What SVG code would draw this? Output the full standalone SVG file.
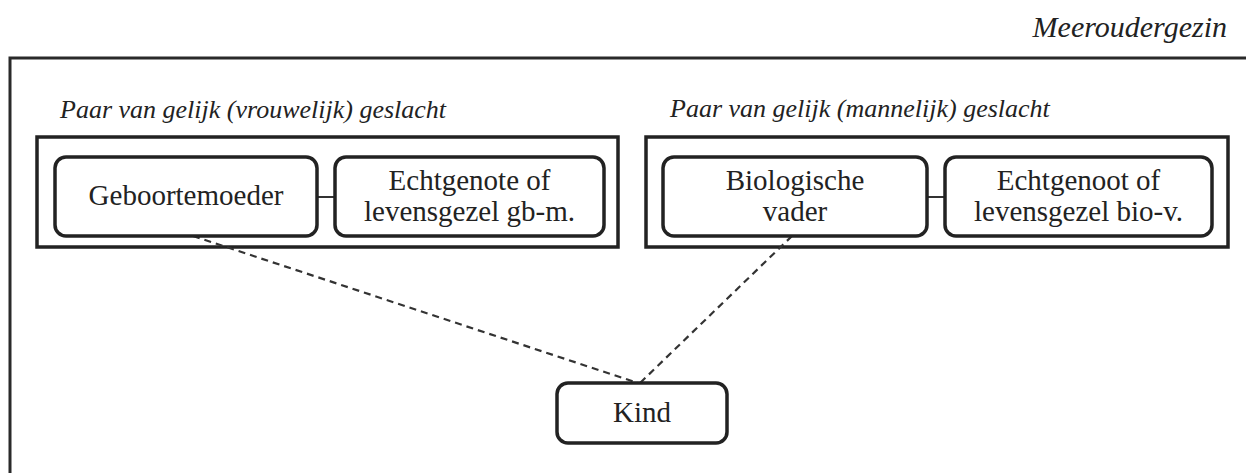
<svg xmlns="http://www.w3.org/2000/svg" width="1246" height="473" viewBox="0 0 1246 473">
<style>
.bg{fill:#ffffff}
.frame{fill:none;stroke:#2a2a2a;stroke-width:3}
.group{fill:none;stroke:#222;stroke-width:3.5}
.node{fill:#fff;stroke:#222;stroke-width:3.5}
.t{font-family:"Liberation Serif",serif;font-size:29px;fill:#222;text-anchor:middle}
.it{font-family:"Liberation Serif",serif;font-style:italic;font-size:26px;fill:#222}
.link{stroke:#333;stroke-width:2;fill:none}
.dash{stroke:#333;stroke-width:2.2;fill:none;stroke-dasharray:7 5}
</style>
<rect class="bg" x="0" y="0" width="1246" height="473"/>
<text class="it" x="1227" y="37" style="text-anchor:end;font-size:30px">Meeroudergezin</text>
<path class="frame" d="M10,473 V58 H1246"/>
<g id="group-vrouwelijk">
<text class="it" x="60" y="118">Paar van gelijk (vrouwelijk) geslacht</text>
<rect class="group" x="37" y="137" width="581" height="110"/>
</g>
<g id="group-mannelijk">
<text class="it" x="670" y="117">Paar van gelijk (mannelijk) geslacht</text>
<rect class="group" x="646" y="137" width="582" height="110"/>
</g>
<g id="connectors">
<line class="link" x1="317" y1="197" x2="335" y2="197"/>
<line class="link" x1="927" y1="197" x2="945" y2="197"/>
<line class="dash" x1="193" y1="236" x2="638" y2="383"/>
<line class="dash" x1="792" y1="236" x2="640" y2="383"/>
</g>
<g id="node-geboortemoeder">
<rect class="node" x="55" y="157" width="262" height="79" rx="11"/>
<text class="t" x="186" y="205">Geboortemoeder</text>
</g>
<g id="node-echtgenote">
<rect class="node" x="335" y="157" width="269" height="79" rx="11"/>
<text class="t" x="469.5" y="190">Echtgenote of</text>
<text class="t" x="469.5" y="221">levensgezel gb-m.</text>
</g>
<g id="node-biologische-vader">
<rect class="node" x="663" y="157" width="264" height="79" rx="11"/>
<text class="t" x="795" y="190">Biologische</text>
<text class="t" x="795" y="221">vader</text>
</g>
<g id="node-echtgenoot">
<rect class="node" x="945" y="157" width="267" height="79" rx="11"/>
<text class="t" x="1078.5" y="190">Echtgenoot of</text>
<text class="t" x="1078.5" y="221">levensgezel bio-v.</text>
</g>
<g id="node-kind">
<rect class="node" x="557" y="383" width="170" height="60" rx="11"/>
<text class="t" x="642" y="422">Kind</text>
</g>
</svg>
